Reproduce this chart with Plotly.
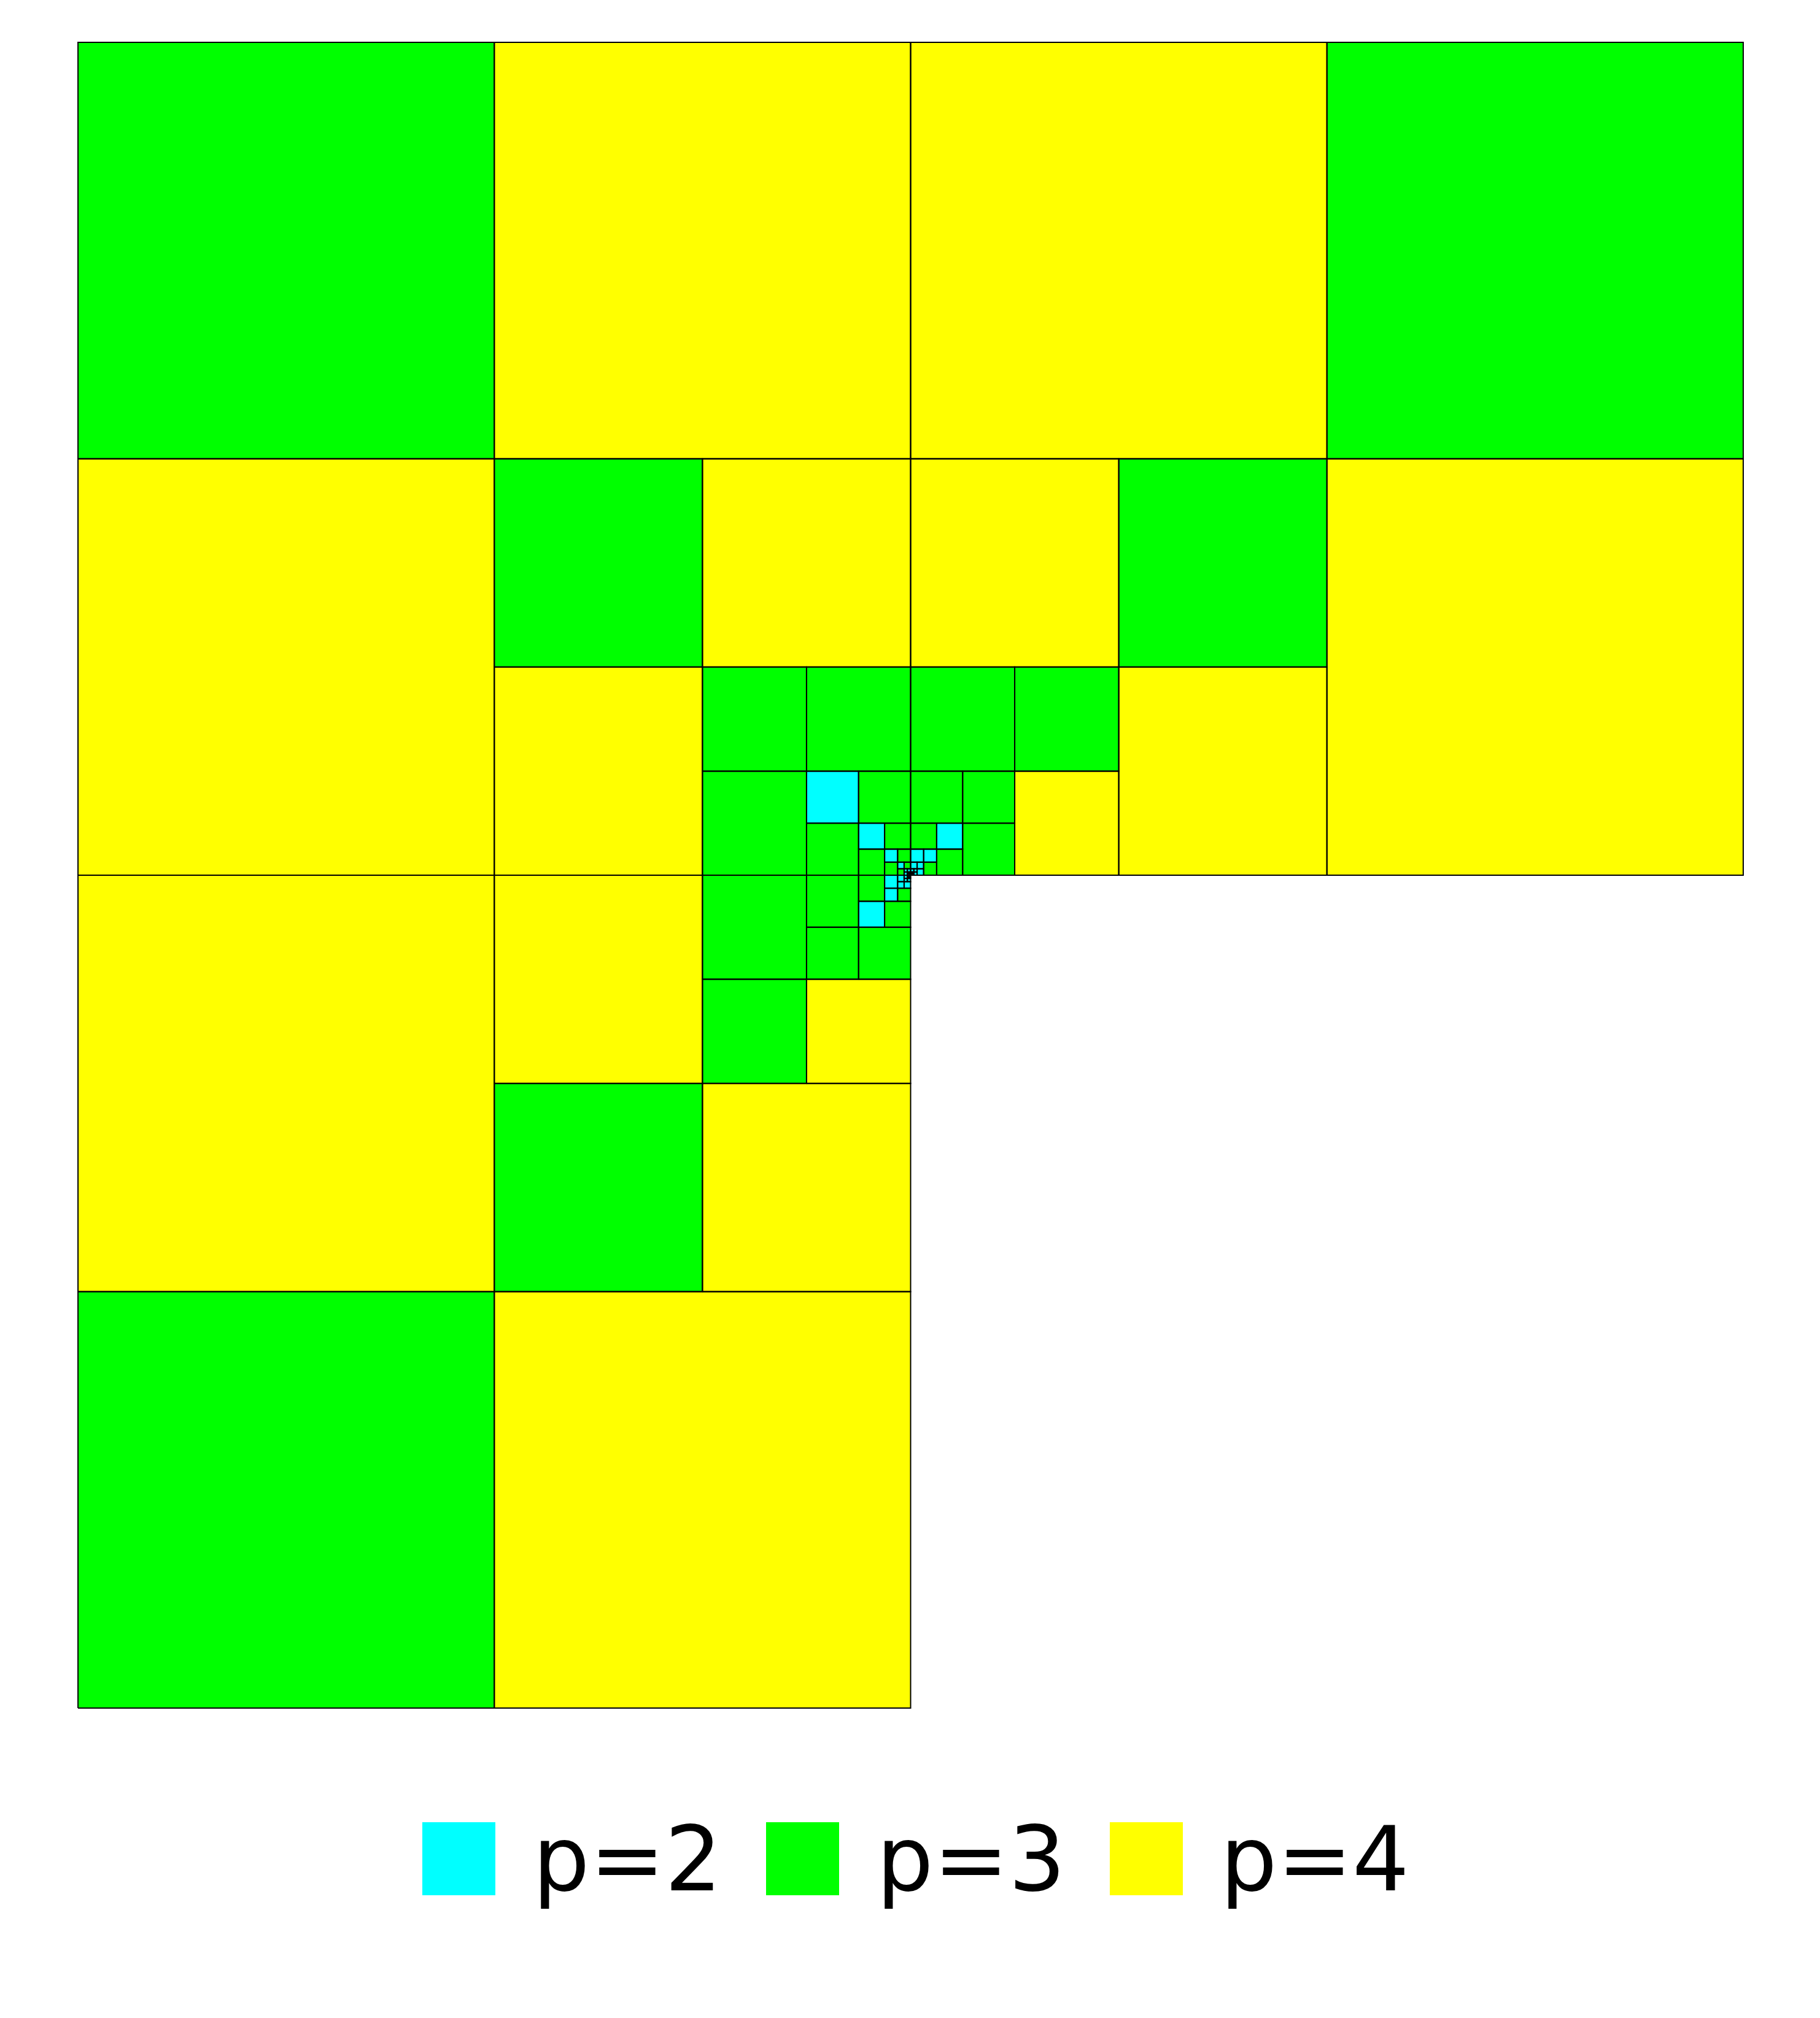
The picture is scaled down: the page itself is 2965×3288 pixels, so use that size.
import plotly.graph_objects as go

# ---- mesh data (L-shaped domain [-1,1]^2 minus lower-right quadrant) ----
# lower-left corner x, lower-left corner y, edge length, polynomial degree p
cell_x0 = [
    -1, -0.5, 0, 0.5, -1, 0.5, -1, -1, -0.5,                                  # h=0.5
    -0.5, -0.25, -0.5, 0, 0.25, 0.25, -0.5, -0.5, -0.25,                      # h=0.25
    -0.25, -0.125, -0.25, 0, 0.125, 0.125, -0.25, -0.25, -0.125,              # h=0.125
    -0.125, -0.0625, -0.125, 0, 0.0625, 0.0625, -0.125, -0.125, -0.0625,      # h=0.0625
    -0.0625, -0.03125, -0.0625, 0, 0.03125, 0.03125, -0.0625, -0.0625, -0.03125,
    -0.03125, -0.015625, -0.03125, 0, 0.015625, 0.015625, -0.03125, -0.03125, -0.015625,
    -0.015625, -0.0078125, -0.015625, 0, 0.0078125, 0.0078125, -0.015625, -0.015625, -0.0078125,
    -0.0078125, -0.00390625, -0.0078125, 0, 0.00390625, 0.00390625, -0.0078125, -0.0078125, -0.00390625,
    -0.00390625, -0.001953125, -0.00390625, 0, 0.001953125, 0.001953125, -0.00390625, -0.00390625,
    -0.001953125, -0.001953125, 0, -0.001953125,
]
cell_y0 = [
    0.5, 0.5, 0.5, 0.5, 0, 0, -0.5, -1, -1,
    0.25, 0.25, 0, 0.25, 0.25, 0, -0.25, -0.5, -0.5,
    0.125, 0.125, 0, 0.125, 0.125, 0, -0.125, -0.25, -0.25,
    0.0625, 0.0625, 0, 0.0625, 0.0625, 0, -0.0625, -0.125, -0.125,
    0.03125, 0.03125, 0, 0.03125, 0.03125, 0, -0.03125, -0.0625, -0.0625,
    0.015625, 0.015625, 0, 0.015625, 0.015625, 0, -0.015625, -0.03125, -0.03125,
    0.0078125, 0.0078125, 0, 0.0078125, 0.0078125, 0, -0.0078125, -0.015625, -0.015625,
    0.00390625, 0.00390625, 0, 0.00390625, 0.00390625, 0, -0.00390625, -0.0078125, -0.0078125,
    0.001953125, 0.001953125, 0, 0.001953125, 0.001953125, 0, -0.001953125, -0.00390625,
    -0.00390625, 0, 0, -0.001953125,
]
cell_size = (
    [0.5] * 9 + [0.25] * 9 + [0.125] * 9 + [0.0625] * 9 + [0.03125] * 9
    + [0.015625] * 9 + [0.0078125] * 9 + [0.00390625] * 9 + [0.001953125] * 12
)
cell_p = [
    3, 4, 4, 3, 4, 4, 4, 3, 4,
    3, 4, 4, 4, 3, 4, 4, 3, 4,
    3, 3, 3, 3, 3, 4, 3, 3, 4,
    2, 3, 3, 3, 3, 3, 3, 3, 3,
    2, 3, 3, 3, 2, 3, 3, 2, 3,
    2, 3, 3, 2, 2, 3, 2, 2, 3,
    2, 3, 3, 2, 2, 2, 2, 2, 2,
    2, 2, 2, 2, 2, 2, 2, 2, 2,
    2, 2, 2, 2, 2, 2, 2, 2, 2, 2, 2, 2,
]

p_values = [2, 3, 4]
p_labels = ["p=2", "p=3", "p=4"]
p_colors = ["#00FFFF", "#00FF00", "#FFFF00"]

# ---- figure geometry ----
W, H = 2965, 3288
BODY = 8  # page body margin offset
ML, MR, MT, MB = 123 - BODY, 121 + BODY, 65 - BODY, 501 + BODY
PAD = 0.003
PW, PH = W - ML - MR, H - MT - MB


def px_to_paper_x(px):
    return (px - BODY - ML) / PW


def px_to_paper_y(py):
    return (H - MB - (py - BODY)) / PH


def outline(x0, y0, s):
    return [x0, x0 + s, x0 + s, x0, x0, None], [y0, y0, y0 + s, y0 + s, y0, None]


fig = go.Figure()

for p, lab, col in zip(p_values, p_labels, p_colors):
    xs, ys = [], []
    for x0, y0, s, pp in zip(cell_x0, cell_y0, cell_size, cell_p):
        if pp == p:
            a, b = outline(x0, y0, s)
            xs += a
            ys += b
    fig.add_trace(go.Scatter(
        x=xs, y=ys, mode="lines", fill="toself", fillcolor=col,
        line=dict(width=0, color=col), name=lab, showlegend=False,
        hoverinfo="skip",
    ))

# edges on top
ex, ey = [], []
for x0, y0, s in zip(cell_x0, cell_y0, cell_size):
    a, b = outline(x0, y0, s)
    ex += a
    ey += b
fig.add_trace(go.Scatter(
    x=ex, y=ey, mode="lines", line=dict(color="black", width=2),
    showlegend=False, hoverinfo="skip",
))

# ---- custom legend below the mesh ----
LEG_X0 = 688
LEG_STEP = 560
LEG_SQ = 119
LEG_Y_TOP = 2969
TEXT_DX = 178
shapes, annots = [], []
for i, (lab, col) in enumerate(zip(p_labels, p_colors)):
    x_left = LEG_X0 + i * LEG_STEP
    shapes.append(dict(
        type="rect", xref="paper", yref="paper",
        x0=px_to_paper_x(x_left), x1=px_to_paper_x(x_left + LEG_SQ),
        y0=px_to_paper_y(LEG_Y_TOP + LEG_SQ), y1=px_to_paper_y(LEG_Y_TOP),
        fillcolor=col, line=dict(width=0),
    ))
    annots.append(dict(
        xref="paper", yref="paper", x=px_to_paper_x(x_left + TEXT_DX),
        y=px_to_paper_y(LEG_Y_TOP + LEG_SQ / 2), xanchor="left", yanchor="middle",
        text=lab, showarrow=False,
        font=dict(family="DejaVu Sans", size=146, color="black"),
    ))

fig.update_layout(
    width=W, height=H,
    margin=dict(l=ML, r=MR, t=MT, b=MB, pad=0),
    paper_bgcolor="white", plot_bgcolor="white",
    xaxis=dict(range=[-1 - PAD, 1 + PAD], visible=False, showgrid=False, zeroline=False),
    yaxis=dict(range=[-1 - PAD, 1 + PAD], visible=False, showgrid=False, zeroline=False),
    shapes=shapes, annotations=annots, showlegend=False,
)

fig.write_html("out.html")
